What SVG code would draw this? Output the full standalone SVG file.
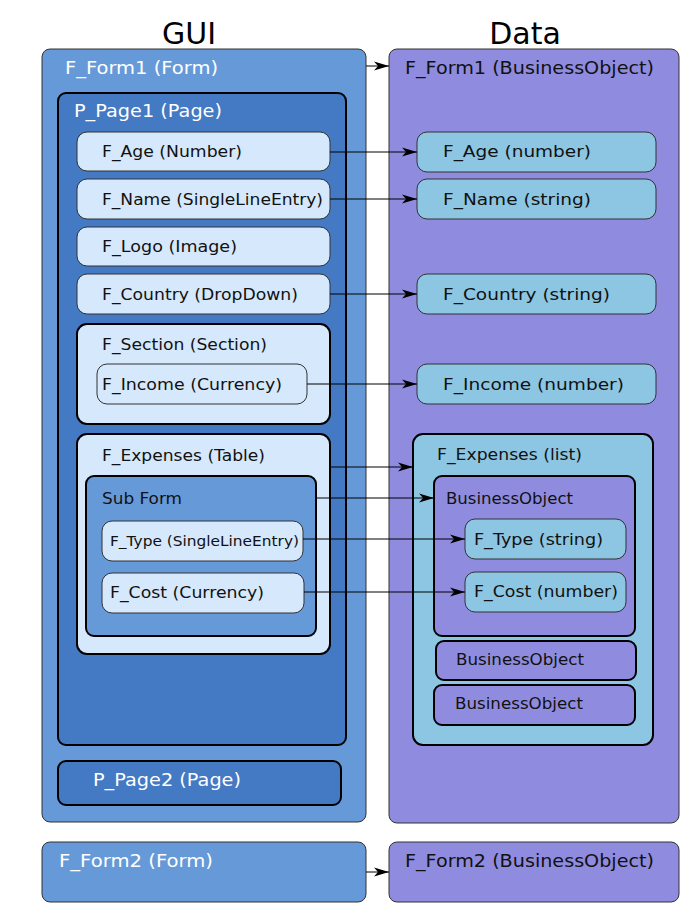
<svg xmlns="http://www.w3.org/2000/svg" width="680" height="903" viewBox="0 0 680 903">
<defs>
<marker id="ah" markerWidth="16" markerHeight="10" refX="15" refY="5" orient="auto" markerUnits="userSpaceOnUse">
<path d="M0,0.5 L15,5 L0,9.5 L4,5 Z" fill="#000"/>
</marker>
<style>
text{font-family:"DejaVu Sans","Verdana",sans-serif;font-size:18px;}
.w{fill:#ffffff;}
.d{fill:#111111;}
.t{font-size:16.5px;}
.s{font-size:14px;}
.h{font-size:30px;fill:#000;text-anchor:middle;}
.form{fill:#6699d8;stroke:#333;stroke-width:1;}
.page{fill:#4479c4;stroke:#000;stroke-width:2;}
.fld{fill:#d6e8fc;stroke:#333;stroke-width:1;}
.cont{fill:#d6e8fc;stroke:#000;stroke-width:2;}
.sub{fill:#6699d8;stroke:#000;stroke-width:2;}
.bo{fill:#8f8ce0;stroke:#333;stroke-width:1;}
.bo2{fill:#8f8ce0;stroke:#000;stroke-width:2;}
.df{fill:#8cc6e2;stroke:#333;stroke-width:1;}
.dl{fill:#8cc6e2;stroke:#000;stroke-width:2;}
.c line{stroke:#000;stroke-width:1;marker-end:url(#ah);}
</style>
</defs>
<rect width="680" height="903" fill="#fff"/>
<text class="h" x="189" y="44">GUI</text>
<text class="h" x="525" y="44">Data</text>

<g id="F_Form1_Form"><rect class="form" x="42" y="49" width="324" height="773" rx="8"/><text class="w" x="65" y="74" textLength="153" lengthAdjust="spacingAndGlyphs">F_Form1 (Form)</text></g>
<g id="P_Page1"><rect class="page" x="58" y="93" width="288" height="652" rx="8"/><text class="w" x="74" y="117" textLength="148" lengthAdjust="spacingAndGlyphs">P_Page1 (Page)</text></g>
<g id="F_Age"><rect class="fld" x="77" y="132" width="253" height="39" rx="10"/><text class="d t" x="102" y="157" textLength="140" lengthAdjust="spacingAndGlyphs">F_Age (Number)</text></g>
<g id="F_Name"><rect class="fld" x="77" y="179" width="253" height="40" rx="10"/><text class="d t" x="102" y="205" textLength="221" lengthAdjust="spacingAndGlyphs">F_Name (SingleLineEntry)</text></g>
<g id="F_Logo"><rect class="fld" x="77" y="227" width="253" height="39" rx="10"/><text class="d t" x="102" y="252" textLength="135" lengthAdjust="spacingAndGlyphs">F_Logo (Image)</text></g>
<g id="F_Country"><rect class="fld" x="77" y="274" width="253" height="40" rx="10"/><text class="d t" x="102" y="300" textLength="196" lengthAdjust="spacingAndGlyphs">F_Country (DropDown)</text></g>
<g id="F_Section"><rect class="cont" x="77" y="324" width="253" height="100" rx="10"/><text class="d t" x="102" y="350" textLength="165" lengthAdjust="spacingAndGlyphs">F_Section (Section)</text></g>
<g id="F_Income"><rect class="fld" x="97" y="364" width="210" height="40" rx="10"/><text class="d t" x="102" y="390" textLength="180" lengthAdjust="spacingAndGlyphs">F_Income (Currency)</text></g>
<g id="F_Expenses_Table"><rect class="cont" x="77" y="434" width="253" height="220" rx="10"/><text class="d t" x="102" y="461" textLength="163" lengthAdjust="spacingAndGlyphs">F_Expenses (Table)</text></g>
<g id="SubForm"><rect class="sub" x="86" y="476" width="230" height="160" rx="8"/><text class="d t" x="102" y="504" textLength="80" lengthAdjust="spacingAndGlyphs">Sub Form</text></g>
<g id="F_Type"><rect class="fld" x="102" y="521" width="201" height="40" rx="10"/><text class="d s" x="110" y="546" textLength="189" lengthAdjust="spacingAndGlyphs">F_Type (SingleLineEntry)</text></g>
<g id="F_Cost"><rect class="fld" x="102" y="573" width="202" height="40" rx="10"/><text class="d t" x="110" y="598" textLength="154" lengthAdjust="spacingAndGlyphs">F_Cost (Currency)</text></g>
<g id="P_Page2"><rect class="page" x="58" y="761" width="283" height="44" rx="8"/><text class="w" x="93" y="786" textLength="148" lengthAdjust="spacingAndGlyphs">P_Page2 (Page)</text></g>
<g id="F_Form2_Form"><rect class="form" x="42" y="842" width="324" height="60" rx="8"/><text class="w" x="59" y="867" textLength="154" lengthAdjust="spacingAndGlyphs">F_Form2 (Form)</text></g>

<g id="F_Form1_BO"><rect class="bo" x="389" y="49" width="290" height="774" rx="8"/><text class="d" x="405" y="74" textLength="249" lengthAdjust="spacingAndGlyphs">F_Form1 (BusinessObject)</text></g>
<g id="D_Age"><rect class="df" x="417" y="132" width="239" height="40" rx="10"/><text class="d t" x="443" y="157" textLength="148" lengthAdjust="spacingAndGlyphs">F_Age (number)</text></g>
<g id="D_Name"><rect class="df" x="417" y="179" width="239" height="40" rx="10"/><text class="d t" x="443" y="205" textLength="148" lengthAdjust="spacingAndGlyphs">F_Name (string)</text></g>
<g id="D_Country"><rect class="df" x="417" y="274" width="239" height="40" rx="10"/><text class="d t" x="443" y="300" textLength="167" lengthAdjust="spacingAndGlyphs">F_Country (string)</text></g>
<g id="D_Income"><rect class="df" x="417" y="364" width="239" height="40" rx="10"/><text class="d t" x="443" y="390" textLength="181" lengthAdjust="spacingAndGlyphs">F_Income (number)</text></g>
<g id="D_Expenses"><rect class="dl" x="413" y="434" width="240" height="311" rx="10"/><text class="d t" x="437" y="460" textLength="145" lengthAdjust="spacingAndGlyphs">F_Expenses (list)</text></g>
<g id="D_BO1"><rect class="bo2" x="434" y="476" width="201" height="160" rx="8"/><text class="d t" x="446" y="504" textLength="127" lengthAdjust="spacingAndGlyphs">BusinessObject</text></g>
<g id="D_Type"><rect class="df" x="465" y="519" width="161" height="40" rx="10"/><text class="d t" x="474" y="545" textLength="129" lengthAdjust="spacingAndGlyphs">F_Type (string)</text></g>
<g id="D_Cost"><rect class="df" x="465" y="572" width="161" height="40" rx="10"/><text class="d t" x="474" y="597" textLength="144" lengthAdjust="spacingAndGlyphs">F_Cost (number)</text></g>
<g id="D_BO2"><rect class="bo2" x="436" y="641" width="200" height="39" rx="8"/><text class="d t" x="456" y="665" textLength="128" lengthAdjust="spacingAndGlyphs">BusinessObject</text></g>
<g id="D_BO3"><rect class="bo2" x="434" y="685" width="201" height="40" rx="8"/><text class="d t" x="455" y="709" textLength="128" lengthAdjust="spacingAndGlyphs">BusinessObject</text></g>
<g id="F_Form2_BO"><rect class="bo" x="389" y="842" width="290" height="60" rx="8"/><text class="d" x="405" y="867" textLength="249" lengthAdjust="spacingAndGlyphs">F_Form2 (BusinessObject)</text></g>

<g id="connectors" class="c">
<line x1="366" y1="66" x2="389" y2="66"/>
<line x1="330" y1="152" x2="417" y2="152"/>
<line x1="330" y1="199" x2="417" y2="199"/>
<line x1="330" y1="294" x2="417" y2="294"/>
<line x1="307" y1="384" x2="417" y2="384"/>
<line x1="330" y1="467" x2="413" y2="467"/>
<line x1="316" y1="498" x2="434" y2="498"/>
<line x1="303" y1="539" x2="465" y2="539"/>
<line x1="304" y1="592" x2="465" y2="592"/>
<line x1="366" y1="872" x2="389" y2="872"/>
</g>
</svg>
